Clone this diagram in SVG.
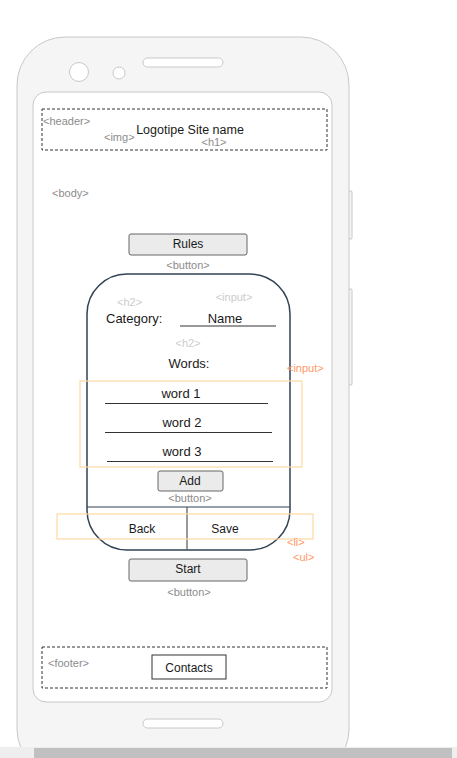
<svg xmlns="http://www.w3.org/2000/svg" width="457" height="758" viewBox="0 0 457 758">
<style>
text{font-family:"Liberation Sans",Arial,sans-serif}
.tag{font-size:11px;fill:#8c8c8c}
.tagl{font-size:11px;fill:#cccccc}
.tago{font-size:11px;fill:#ff9966}
.t{font-size:13px;fill:#1a1a1a}
.btn{fill:#ebebeb;stroke:#666666;stroke-width:1}
.dash{fill:none;stroke:#333333;stroke-width:1;stroke-dasharray:3 2}
.orange{fill:none;stroke:#ffd9a3;stroke-width:1.2}
.ul{stroke:#333333;stroke-width:1}
</style>
<rect width="457" height="758" fill="#ffffff"/>
<g id="phone">
<rect x="348" y="191" width="4" height="48" rx="1" fill="#f5f5f5" stroke="#c8c8c8"/>
<rect x="348" y="289" width="4" height="96" rx="1" fill="#f5f5f5" stroke="#c8c8c8"/>
<rect x="17" y="37" width="332" height="740" rx="48" fill="#f5f5f5" stroke="#c8c8c8"/>
<rect x="33" y="92" width="299" height="610" rx="13" fill="#ffffff" stroke="#c8c8c8"/>
<circle cx="79" cy="72" r="9.5" fill="#ffffff" stroke="#c8c8c8"/>
<circle cx="119" cy="73" r="6" fill="#ffffff" stroke="#c8c8c8"/>
<rect x="143" y="58" width="80" height="9" rx="4.5" fill="#ffffff" stroke="#c8c8c8"/>
<rect x="143" y="719" width="80" height="9" rx="4.5" fill="#ffffff" stroke="#c8c8c8"/>
</g>
<g id="bottom-bar">
<rect x="0" y="747" width="457" height="11" fill="#eeeeee"/>
<rect x="34" y="748" width="418" height="10" fill="#c0c0c0"/>
</g>
<g id="header">
<rect class="dash" x="42" y="109" width="285" height="41"/>
<text class="tag" x="43" y="125">&lt;header&gt;</text>
<text class="t" x="190" y="134" text-anchor="middle" style="font-size:12.5px">Logotipe Site name</text>
<text class="tag" x="104" y="141">&lt;img&gt;</text>
<text class="tag" x="214" y="146" text-anchor="middle">&lt;h1&gt;</text>
</g>
<g id="body-label">
<text class="tag" x="52" y="197">&lt;body&gt;</text>
</g>
<g id="rules-button">
<rect class="btn" x="129" y="234" width="118" height="21" rx="2"/>
<text class="t" x="188" y="248" text-anchor="middle" style="font-size:12px">Rules</text>
<text class="tag" x="188" y="269" text-anchor="middle">&lt;button&gt;</text>
</g>
<g id="form">
<rect x="87" y="274" width="203" height="276" rx="40" fill="none" stroke="#314354" stroke-width="1.5"/>
<line x1="87" y1="507" x2="290" y2="507" stroke="#314354" stroke-width="1.2"/>
<line x1="187" y1="507" x2="187" y2="550" stroke="#555555" stroke-width="1.2"/>
</g>
<g id="category">
<text class="tagl" x="117" y="306">&lt;h2&gt;</text>
<text class="tagl" x="234" y="301" text-anchor="middle">&lt;input&gt;</text>
<text class="t" x="106" y="323">Category:</text>
<text class="t" x="225" y="323" text-anchor="middle">Name</text>
<line class="ul" x1="180" y1="326" x2="276" y2="326"/>
</g>
<g id="words">
<text class="tagl" x="188" y="347" text-anchor="middle">&lt;h2&gt;</text>
<text class="t" x="189" y="368" text-anchor="middle">Words:</text>
<text class="tago" x="287" y="372">&lt;input&gt;</text>
<rect class="orange" x="80" y="381" width="222" height="86"/>
<text class="t" x="181" y="398" text-anchor="middle">word 1</text>
<line class="ul" x1="105" y1="403.5" x2="268" y2="403.5"/>
<text class="t" x="182" y="427" text-anchor="middle">word 2</text>
<line class="ul" x1="105" y1="432.5" x2="272" y2="432.5"/>
<text class="t" x="182" y="456" text-anchor="middle">word 3</text>
<line class="ul" x1="107" y1="461.5" x2="273" y2="461.5"/>
</g>
<g id="add-button">
<rect class="btn" x="158" y="471" width="65" height="20" rx="2"/>
<text class="t" x="190" y="485" text-anchor="middle" style="font-size:12px">Add</text>
<text class="tag" x="190" y="502" text-anchor="middle">&lt;button&gt;</text>
</g>
<g id="nav">
<rect class="orange" x="57" y="514" width="256" height="25"/>
<text class="t" x="142" y="533" text-anchor="middle" style="font-size:12px">Back</text>
<text class="t" x="225" y="533" text-anchor="middle" style="font-size:12px">Save</text>
<text class="tago" x="287" y="546">&lt;li&gt;</text>
<text class="tago" x="293" y="561">&lt;ul&gt;</text>
</g>
<g id="start-button">
<rect class="btn" x="129" y="559" width="118" height="22" rx="2"/>
<text class="t" x="188" y="573" text-anchor="middle" style="font-size:12px">Start</text>
<text class="tag" x="189" y="596" text-anchor="middle">&lt;button&gt;</text>
</g>
<g id="footer">
<rect class="dash" x="42" y="647" width="285" height="41"/>
<text class="tag" x="48" y="667">&lt;footer&gt;</text>
<rect x="152" y="655" width="74" height="24" fill="#ffffff" stroke="#333333"/>
<text class="t" x="189" y="672" text-anchor="middle" style="font-size:12px">Contacts</text>
</g>
<g id="connectors"/>
</svg>
